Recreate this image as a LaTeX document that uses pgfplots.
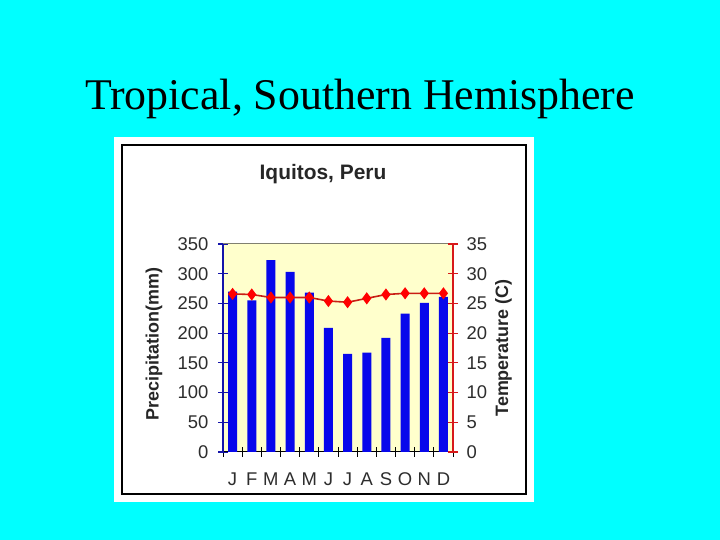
\documentclass[border=0pt]{standalone}
\usepackage{fontspec}
\setmainfont{Liberation Sans}
\newfontfamily\timesfont{Liberation Serif}
\usepackage{pgfplots}
\usepackage{pgfplotstable}
\pgfplotsset{compat=1.18}
\definecolor{bg}{RGB}{0,255,255}
\definecolor{plotbg}{RGB}{255,255,204}
\definecolor{barblue}{RGB}{8,8,235}
\definecolor{axblue}{RGB}{20,20,170}
\definecolor{axred}{RGB}{215,25,25}
\definecolor{linered}{RGB}{200,30,20}
\definecolor{topgray}{RGB}{128,128,112}
\definecolor{ticktext}{RGB}{45,45,45}

\pgfplotstableread{
m prec temp
1 270 26.6
2 255 26.5
3 323 26.0
4 303 26.0
5 268 26.0
6 209 25.4
7 165 25.2
8 167 25.85
9 192 26.5
10 233 26.7
11 251 26.7
12 261 26.7
}\climate

\begin{document}
\begin{tikzpicture}[x=1bp,y=1bp]
\fill[bg] (0,0) rectangle (720,540);
\useasboundingbox (0,0) rectangle (720,540);
\node[anchor=base, font=\timesfont\fontsize{44}{50}\selectfont] at (360,430) {Tropical, Southern Hemisphere};
\fill[white] (114,38) rectangle (534,403);
\draw[black, line width=1.2bp] (122,46) rectangle (526,395);
\node[anchor=base, font=\bfseries\fontsize{21}{24}\selectfont, text=black!85] at (323,360) {Iquitos, Peru};
\begin{axis}[at={(223bp,88bp)}, anchor=south west, scale only axis,
  width=230bp, height=208bp,
  xmin=0.5, xmax=12.5, ymin=0, ymax=350,
  axis x line*=bottom, axis y line*=left,
  x axis line style={black, line width=1bp},
  y axis line style={axblue, line width=1.2bp},
  axis background/.style={fill=plotbg},
  xtick={1,...,12},
  xticklabels={J,F,M,A,M,J,J,A,S,O,N,D},
  minor xtick={0.5,1.5,...,12.5},
  ytick={0,50,...,350},
  tick align=center, major tick length=10bp, minor tick length=10bp,
  xtick style={draw=none},
  minor x tick style={draw=black, line width=1bp},
  ytick style={axblue, line width=1.2bp},
  tick label style={font=\fontsize{18.5}{20}\selectfont, text=ticktext},
  yticklabel style={xshift=-6bp},
  xticklabel style={yshift=-12bp},
  /pgf/number format/assume math mode=true,
  ylabel={Precipitation(mm)},
  every axis y label/.style={at={(axis description cs:-0.3,0.52)}, rotate=90, anchor=center, font=\bfseries\fontsize{18}{20}\selectfont, text=black!85},
]
\addplot[ybar, bar width=9bp, fill=barblue, draw=none] table[x=m,y=prec]{\climate};
\draw[topgray, line width=1bp] (rel axis cs:0,1) -- (rel axis cs:1,1);
\end{axis}
\begin{axis}[at={(223bp,88bp)}, anchor=south west, scale only axis,
  width=230bp, height=208bp,
  xmin=0.5, xmax=12.5, ymin=0, ymax=35,
  axis x line=none, axis y line*=right,
  y axis line style={axred, line width=1.2bp},
  ytick={0,5,...,35},
  tick align=center, major tick length=10bp,
  ytick style={axred, line width=1.2bp},
  tick label style={font=\fontsize{18.5}{20}\selectfont, text=ticktext},
  yticklabel style={xshift=5bp},
  /pgf/number format/assume math mode=true,
  ylabel={Temperature (C)},
  every axis y label/.style={at={(axis description cs:1.22,0.5)}, rotate=90, anchor=center, font=\bfseries\fontsize{18}{20}\selectfont, text=black!85},
]
\addplot[linered, line width=1.6bp, mark=diamond*, mark size=4.8bp, mark options={fill=red, draw=red, solid}] table[x=m,y=temp]{\climate};
\end{axis}
\end{tikzpicture}
\end{document}
